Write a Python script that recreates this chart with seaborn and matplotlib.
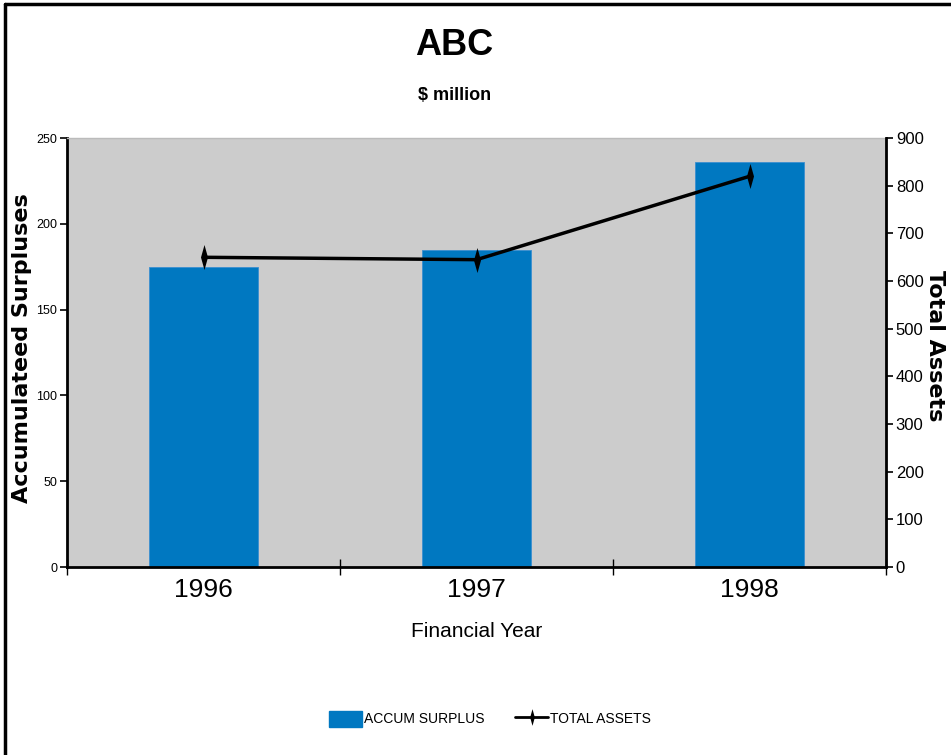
import numpy as np
import pandas as pd
import seaborn as sns
import matplotlib.pyplot as plt
from matplotlib.patches import Patch
from matplotlib.lines import Line2D

# data
years = ["1996", "1997", "1998"]
accum_surplus = [175, 185, 236]
total_assets = [650, 645, 820]

left_ticks = [0, 50, 100, 150, 200, 250]
right_ticks = [0, 100, 200, 300, 400, 500, 600, 700, 800, 900]

BLUE = "#0078C1"
narrow = ["Liberation Sans", "DejaVu Sans"]
wide = ["DejaVu Sans"]

sns.set_style("white")
plt.rcParams["font.family"] = narrow
plt.rcParams["text.color"] = "black"
plt.rcParams["axes.labelcolor"] = "black"
plt.rcParams["xtick.color"] = "black"
plt.rcParams["ytick.color"] = "black"

fig = plt.figure(figsize=(9.51, 7.55), dpi=100)
ax = fig.add_axes([0.0705, 0.249, 0.8612, 0.568])
ax.set_facecolor("#cccccc")

df = pd.DataFrame({"year": years, "surplus": accum_surplus})
sns.barplot(data=df, x="year", y="surplus", color=BLUE, saturation=1,
            width=0.4, ax=ax, edgecolor="#3a8fd0", linewidth=0.6)
ax.set_xlim(-0.5, len(years) - 0.5)
ax.set_ylim(0, 250)
ax.set_yticks(left_ticks)
ax.tick_params(axis="y", direction="out", length=5, width=1.2, labelsize=9,
               left=True, pad=2)
ax.tick_params(axis="x", which="major", length=0, labelsize=19, pad=8)
ax.set_xticks(np.arange(-0.5, len(years)), minor=True)
ax.tick_params(axis="x", which="minor", direction="inout", length=12, width=1, bottom=True)

ax.set_xlabel("Financial Year", fontsize=15, labelpad=14)
ax.set_ylabel("Accumulateed Surpluses", fontsize=16, fontweight="bold", family=wide)
ax.yaxis.set_label_coords(-0.043, 0.51)

for s in ["left", "bottom"]:
    ax.spines[s].set_color("black")
    ax.spines[s].set_linewidth(2)
ax.spines["top"].set_color("#bbbbbb")
ax.spines["top"].set_linewidth(1)

# total assets on secondary axis
ax2 = ax.twinx()
diamond = [(0, 1), (0.28, 0), (0, -1), (-0.28, 0), (0, 1)]
sns.lineplot(x=np.arange(len(years)), y=total_assets, ax=ax2, color="black",
             linewidth=2.5, marker=diamond, markersize=18, markeredgewidth=0,
             markerfacecolor="black")
ax2.set_ylim(0, 900)
ax2.set_yticks(right_ticks)
ax2.tick_params(axis="y", direction="out", length=5, width=1.2, labelsize=12,
                right=True, pad=2)
ax2.set_ylabel("Total Assets", fontsize=16, fontweight="bold", family=wide,
               rotation=-90, va="center")
ax2.yaxis.set_label_coords(1.06, 0.515)
ax2.spines["right"].set_color("black")
ax2.spines["right"].set_linewidth(2)
ax2.spines["top"].set_visible(False)
ax2.spines["left"].set_visible(False)
ax2.spines["bottom"].set_visible(False)

fig.text(0.478, 0.94, "ABC", ha="center", va="center", fontsize=26, fontweight="bold")
fig.text(0.478, 0.874, "$ million", ha="center", va="center", fontsize=13, fontweight="bold")

handles = [Patch(facecolor=BLUE, edgecolor=BLUE),
           Line2D([0], [0], color="black", linewidth=2, marker=diamond,
                  markersize=12, markeredgewidth=0)]
fig.legend(handles, ["ACCUM SURPLUS", "TOTAL ASSETS"], loc="center",
           bbox_to_anchor=(0.515, 0.048), ncol=2, frameon=False, fontsize=10,
           handlelength=2.4, handleheight=1.4, columnspacing=2.2, handletextpad=0.1)

# page border (left and top only)
fig.add_artist(Line2D([0.0055, 0.0055], [0, 0.995], color="black", linewidth=2.5,
                      transform=fig.transFigure))
fig.add_artist(Line2D([0.0055, 1], [0.995, 0.995], color="black", linewidth=2.5,
                      transform=fig.transFigure))

fig.savefig("out.png", dpi=100)
